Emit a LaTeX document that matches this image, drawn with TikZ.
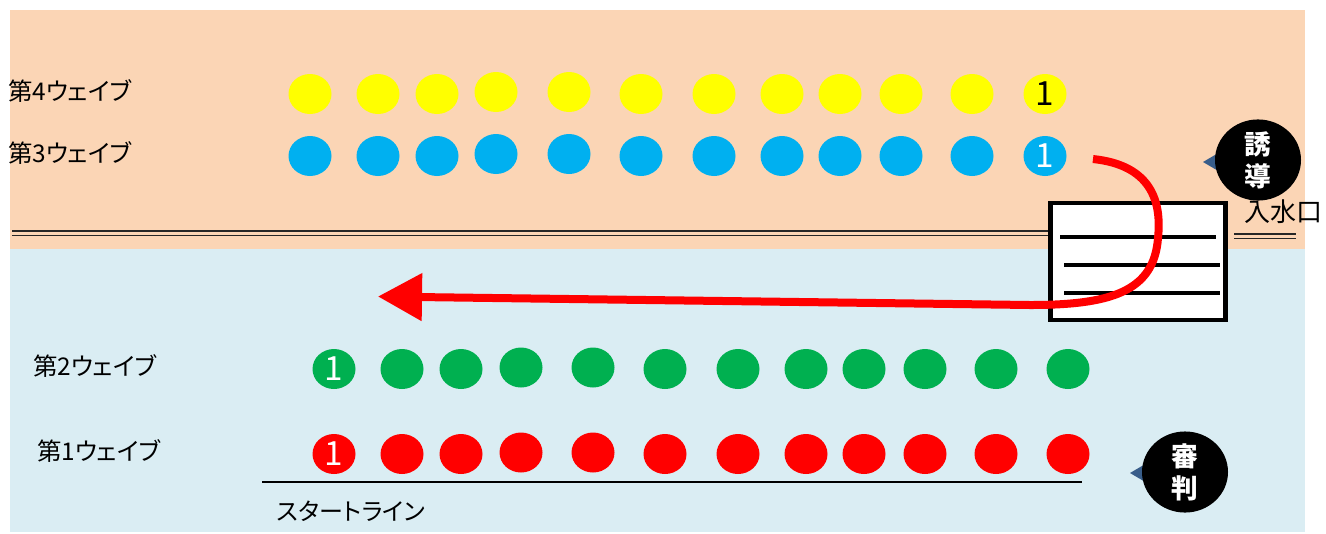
\documentclass[tikz,border=0pt]{standalone}
\usepackage{fontspec}
\usetikzlibrary{shapes.geometric,arrows.meta}
\newfontfamily\jp[RawFeature=+palt]{Noto Sans CJK JP}
\definecolor{peach}{RGB}{251,213,181}
\definecolor{pool}{RGB}{218,237,243}
\definecolor{wyellow}{RGB}{255,255,0}
\definecolor{wblue}{RGB}{0,176,240}
\definecolor{wgreen}{RGB}{0,176,80}
\definecolor{wred}{RGB}{255,0,0}
\definecolor{tailblue}{RGB}{56,93,138}
\begin{document}
\begin{tikzpicture}[x=0.75pt,y=-0.75pt,
  swimmer/.style={ellipse, minimum width=32.25pt, minimum height=30pt, inner sep=0pt},
  numtext/.style={inner sep=0pt, font=\jp\fontsize{25}{25}\selectfont},
  label/.style={anchor=west, inner sep=0pt, font=\jp\fontsize{18.3}{20}\selectfont},
  bubble/.style={ellipse, fill=black, text=white, minimum width=64.5pt, minimum height=52.5pt,
    inner sep=0pt, align=center, font=\jp\bfseries\fontsize{20}{24}\selectfont},
  tail/.style={fill=tailblue},
  pathline/.style={line width=1.1pt, draw=black!85},
  redarrow/.style={draw=wred, line width=6pt, -{Triangle[length=33pt,width=34.5pt]}},
  gateline/.style={line width=2.8pt}
]
\useasboundingbox (0,0) rectangle (1326,533);
% backgrounds
\fill[peach] (10,10) rectangle (1305,249);
\fill[pool] (10,249) rectangle (1305,532);
% wall double lines
\draw[pathline] (12,230.8) -- (1049,230.8);
\draw[pathline] (12,235.3) -- (1049,235.3);
\draw[pathline] (1234,233.8) -- (1296,233.8);
\draw[pathline] (1234,238.3) -- (1296,238.3);
% gate box
\node[draw=black, line width=3.3pt, fill=white, minimum width=131pt, minimum height=88pt, inner sep=0pt] (gate) at (1138,261.5) {};
\draw[gateline] (1060,237) -- (1216,237);
\draw[gateline] (1064,265) -- (1220,265);
\draw[gateline] (1064,293) -- (1220,293);
% rows
\foreach \x [count=\i] in {310,378,437,496,569,641,714,782,840,901,972,1045} {
  \pgfmathsetmacro{\dy}{(\i==4 || \i==5) ? -2 : 0}
  \node[swimmer, fill=wyellow] (y\i) at (\x,94+\dy) {};
  \node[swimmer, fill=wblue] (b\i) at (\x,156+\dy) {};
}
\foreach \x [count=\i] in {334,402,461,521,593,665,738,806,864,925,996,1068} {
  \pgfmathsetmacro{\dy}{(\i==4 || \i==5) ? -1.5 : 0}
  \node[swimmer, fill=wgreen] (g\i) at (\x,369+\dy) {};
  \node[swimmer, fill=wred] (r\i) at (\x,454+\dy) {};
}
\node[numtext, text=black] (y12n) at (y12) {1};
\node[numtext, text=white] (b12n) at (b12) {1};
\node[numtext, text=white] (g1n) at (g1) {1};
\node[numtext, text=white] (r1n) at (r1) {1};
% start line
\coordinate (sl1) at (262,482);
\coordinate (sl2) at (1082,482);
\draw[line width=1.2pt] (sl1) -- (sl2);
\node[inner sep=0pt, font=\jp\fontsize{18}{18}\selectfont] (start) at (351,511) {スタートライン};
% labels
\node[label] (w4) at (8,91) {第4ウェイブ};
\node[label] (w3) at (8,153) {第3ウェイブ};
\node[label] (w2) at (33,366) {第2ウェイブ};
\node[label] (w1) at (37,451) {第1ウェイブ};
\node[anchor=west, inner sep=0pt, font=\jp\fontsize{19.5}{20}\selectfont] (inlet) at (1244,212) {入水口};
% red route arrow
\coordinate (rs) at (1093,159);
\coordinate (rm) at (1158,238);
\coordinate (rb) at (1030,305);
\coordinate (re) at (378,296.5);
\draw[redarrow] (rs) .. controls (1150,165) and (1162,200) .. (rm) .. controls (1154,292) and (1110,305) .. (rb) -- (re);
% bubbles
\fill[tail] (1203,162) -- (1220,152) -- (1220,172) -- cycle;
\node[bubble] (guide) at (1258,160) {誘\\導};
\fill[tail] (1130,473) -- (1147,463) -- (1147,483) -- cycle;
\node[bubble] (judge) at (1185,472) {審\\判};
\end{tikzpicture}
\end{document}
